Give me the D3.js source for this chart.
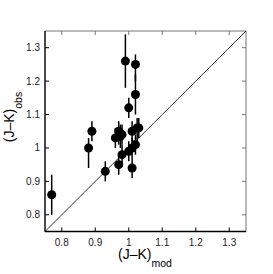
<!DOCTYPE html>
<meta charset="utf-8">
<style>
body { margin: 0; background: #fff; }
text { font-family: "Liberation Sans", Arial, sans-serif; }
.tick-label { font-size: 10px; fill: #222; }
</style>
<body>
<script src="https://d3js.org/d3.v7.min.js"></script>
<script>

var width = 273, height = 274;
var margin = {left: 45, right: 27, top: 31, bottom: 42.5};

// colour index pairs
var jkMod = [0.77, 0.88, 0.89, 0.93, 0.96, 0.97, 0.975, 0.98, 0.97, 0.98, 0.99,
             1.00, 1.00, 1.01, 1.01, 1.01, 1.02, 1.02, 1.02, 1.025, 1.03];
var jkObs = [0.86, 1.00, 1.05, 0.93, 1.03, 1.05, 1.035, 1.04, 0.95, 0.98, 1.26,
             1.12, 0.99, 1.00, 1.05, 0.94, 1.25, 1.16, 1.01, 1.06, 1.06];
var obsLo = [0.80, 0.94, 1.02, 0.90, 1.00, 1.01, 1.00, 1.01, 0.92, 0.95, 1.18,
             1.09, 0.96, 0.97, 1.02, 0.91, 1.20, 1.10, 0.98, 1.02, 1.03];
var obsHi = [0.92, 1.03, 1.08, 0.96, 1.06, 1.08, 1.07, 1.07, 0.98, 1.01, 1.34,
             1.15, 1.02, 1.03, 1.08, 0.97, 1.28, 1.22, 1.04, 1.09, 1.09];
var ticks = [0.8, 0.9, 1, 1.1, 1.2, 1.3];
var domain = [0.75, 1.35];

var x = d3.scaleLinear().domain(domain).range([margin.left, width - margin.right]);
var y = d3.scaleLinear().domain(domain).range([height - margin.bottom, margin.top]);

var svg = d3.select('body').append('svg')
  .attr('width', width)
  .attr('height', height);

// box
svg.append('rect')
  .attr('x', x(domain[0])).attr('y', y(domain[1]))
  .attr('width', x(domain[1]) - x(domain[0]))
  .attr('height', y(domain[0]) - y(domain[1]))
  .attr('fill', 'none').attr('stroke', '#777').attr('stroke-width', 1);

// ticks on all four sides, pointing in
var tl = 4;
ticks.forEach(function(t) {
  svg.append('line').attr('x1', x(t)).attr('x2', x(t))
    .attr('y1', y(domain[0])).attr('y2', y(domain[0]) - tl).attr('stroke', '#000');
  svg.append('line').attr('x1', x(t)).attr('x2', x(t))
    .attr('y1', y(domain[1])).attr('y2', y(domain[1]) + tl).attr('stroke', '#777');
  svg.append('line').attr('y1', y(t)).attr('y2', y(t))
    .attr('x1', x(domain[0])).attr('x2', x(domain[0]) + tl).attr('stroke', '#000');
  svg.append('line').attr('y1', y(t)).attr('y2', y(t))
    .attr('x1', x(domain[1])).attr('x2', x(domain[1]) - tl).attr('stroke', '#777');
  svg.append('text').attr('class', 'tick-label')
    .attr('x', x(t)).attr('y', y(domain[0]) + 14)
    .attr('text-anchor', 'middle').text(t);
  svg.append('text').attr('class', 'tick-label')
    .attr('x', x(domain[0]) - 5).attr('y', y(t) + 3.5)
    .attr('text-anchor', 'end').text(t);
});

// left and bottom axis lines
svg.append('line').attr('x1', x(domain[0])).attr('x2', x(domain[1]))
  .attr('y1', y(domain[0])).attr('y2', y(domain[0]))
  .attr('stroke', '#000').attr('stroke-width', 1.5);
svg.append('line').attr('x1', x(domain[0])).attr('x2', x(domain[0]))
  .attr('y1', y(domain[0])).attr('y2', y(domain[1]))
  .attr('stroke', '#000').attr('stroke-width', 1.2);

// one-to-one line
svg.append('line')
  .attr('x1', x(domain[0])).attr('y1', y(domain[0]))
  .attr('x2', x(domain[1])).attr('y2', y(domain[1]))
  .attr('stroke', '#000').attr('stroke-width', 0.8);

var idx = d3.range(jkMod.length);

svg.selectAll('.err').data(idx).enter().append('line')
  .attr('class', 'err')
  .attr('x1', i => x(jkMod[i])).attr('x2', i => x(jkMod[i]))
  .attr('y1', i => y(obsLo[i])).attr('y2', i => y(obsHi[i]))
  .attr('stroke', '#000').attr('stroke-width', 1.5);

svg.selectAll('.pt').data(idx).enter().append('circle')
  .attr('class', 'pt')
  .attr('cx', i => x(jkMod[i])).attr('cy', i => y(jkObs[i]))
  .attr('r', 4.5).attr('fill', '#000');

// axis titles
var xt = svg.append('text')
  .attr('x', 145).attr('y', 259)
  .attr('text-anchor', 'middle')
  .style('font-size', '14px');
xt.append('tspan').text('(J\u2013K)');
xt.append('tspan').attr('dy', 8).style('font-size', '10.5px').text('mod');

var yt = svg.append('text')
  .attr('transform', 'translate(14,117) rotate(-90)')
  .attr('text-anchor', 'middle')
  .style('font-size', '14px');
yt.append('tspan').text('(J\u2013K)');
yt.append('tspan').attr('dy', 8).style('font-size', '10.5px').text('obs');

</script>
</body>
